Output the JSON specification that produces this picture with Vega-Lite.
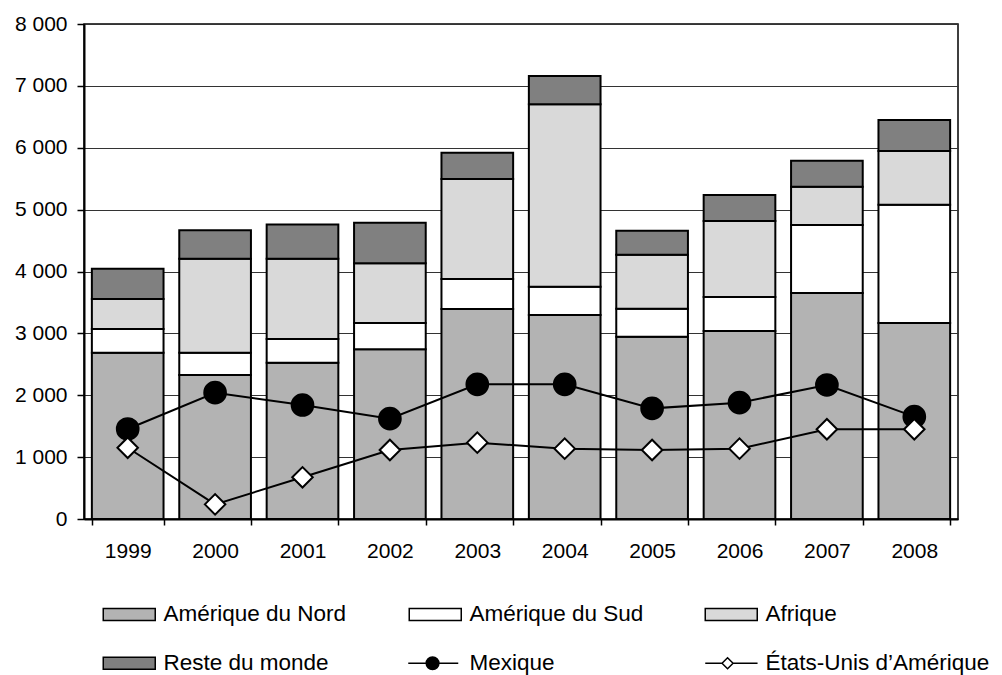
{
  "$schema": "https://vega.github.io/schema/vega-lite/v6.json",
  "width": 874,
  "height": 495,
  "autosize": {"type": "none"},
  "padding": {"left": 84, "top": 24, "right": 44, "bottom": 156},
  "background": "white",
  "config": {
    "font": "Liberation Sans",
    "view": {"stroke": "black", "strokeWidth": 1.5},
    "axis": {
      "labelFont": "Liberation Sans",
      "labelFontSize": 21,
      "labelColor": "black",
      "domainColor": "black",
      "domainWidth": 2,
      "tickColor": "black",
      "tickWidth": 1.5,
      "title": null
    },
    "legend": {
      "orient": "none",
      "legendX": 19,
      "legendY": 579,
      "columns": 3,
      "direction": "horizontal",
      "padding": 0,
      "labelFont": "Liberation Sans",
      "labelFontSize": 22.5,
      "labelColor": "black",
      "labelLimit": 400,
      "symbolSize": 400,
      "symbolOffset": 15,
      "labelOffset": 23,
      "columnPadding": 58,
      "rowPadding": 26,
      "symbolStrokeColor": "black",
      "symbolStrokeWidth": 1.5
    }
  },
  "datasets": {
    "bars": [
      {"year": "1999", "series": "Amérique du Nord", "value": 2688},
      {"year": "1999", "series": "Amérique du Sud", "value": 383},
      {"year": "1999", "series": "Afrique", "value": 485},
      {"year": "1999", "series": "Reste du monde", "value": 489},
      {"year": "2000", "series": "Amérique du Nord", "value": 2327},
      {"year": "2000", "series": "Amérique du Sud", "value": 361},
      {"year": "2000", "series": "Afrique", "value": 1519},
      {"year": "2000", "series": "Reste du monde", "value": 458},
      {"year": "2001", "series": "Amérique du Nord", "value": 2527},
      {"year": "2001", "series": "Amérique du Sud", "value": 382},
      {"year": "2001", "series": "Afrique", "value": 1298},
      {"year": "2001", "series": "Reste du monde", "value": 553},
      {"year": "2002", "series": "Amérique du Nord", "value": 2742},
      {"year": "2002", "series": "Amérique du Sud", "value": 426},
      {"year": "2002", "series": "Afrique", "value": 964},
      {"year": "2002", "series": "Reste du monde", "value": 657},
      {"year": "2003", "series": "Amérique du Nord", "value": 3394},
      {"year": "2003", "series": "Amérique du Sud", "value": 485},
      {"year": "2003", "series": "Afrique", "value": 1616},
      {"year": "2003", "series": "Reste du monde", "value": 425},
      {"year": "2004", "series": "Amérique du Nord", "value": 3297},
      {"year": "2004", "series": "Amérique du Sud", "value": 458},
      {"year": "2004", "series": "Afrique", "value": 2947},
      {"year": "2004", "series": "Reste du monde", "value": 458},
      {"year": "2005", "series": "Amérique du Nord", "value": 2947},
      {"year": "2005", "series": "Amérique du Sud", "value": 452},
      {"year": "2005", "series": "Afrique", "value": 873},
      {"year": "2005", "series": "Reste du monde", "value": 388},
      {"year": "2006", "series": "Amérique du Nord", "value": 3038},
      {"year": "2006", "series": "Amérique du Sud", "value": 550},
      {"year": "2006", "series": "Afrique", "value": 1228},
      {"year": "2006", "series": "Reste du monde", "value": 420},
      {"year": "2007", "series": "Amérique du Nord", "value": 3653},
      {"year": "2007", "series": "Amérique du Sud", "value": 1099},
      {"year": "2007", "series": "Afrique", "value": 619},
      {"year": "2007", "series": "Reste du monde", "value": 420},
      {"year": "2008", "series": "Amérique du Nord", "value": 3168},
      {"year": "2008", "series": "Amérique du Sud", "value": 1912},
      {"year": "2008", "series": "Afrique", "value": 868},
      {"year": "2008", "series": "Reste du monde", "value": 500}
    ],
    "lines": [
      {"year": "1999", "series": "Mexique", "value": 1455},
      {"year": "2000", "series": "Mexique", "value": 2041},
      {"year": "2001", "series": "Mexique", "value": 1842},
      {"year": "2002", "series": "Mexique", "value": 1621},
      {"year": "2003", "series": "Mexique", "value": 2177},
      {"year": "2004", "series": "Mexique", "value": 2177},
      {"year": "2005", "series": "Mexique", "value": 1788},
      {"year": "2006", "series": "Mexique", "value": 1880},
      {"year": "2007", "series": "Mexique", "value": 2166},
      {"year": "2008", "series": "Mexique", "value": 1654},
      {"year": "1999", "series": "États-Unis d’Amérique", "value": 1152},
      {"year": "2000", "series": "États-Unis d’Amérique", "value": 237},
      {"year": "2001", "series": "États-Unis d’Amérique", "value": 674},
      {"year": "2002", "series": "États-Unis d’Amérique", "value": 1115},
      {"year": "2003", "series": "États-Unis d’Amérique", "value": 1234},
      {"year": "2004", "series": "États-Unis d’Amérique", "value": 1137},
      {"year": "2005", "series": "États-Unis d’Amérique", "value": 1115},
      {"year": "2006", "series": "États-Unis d’Amérique", "value": 1137},
      {"year": "2007", "series": "États-Unis d’Amérique", "value": 1450},
      {"year": "2008", "series": "États-Unis d’Amérique", "value": 1450}
    ]
  },
  "layer": [
    {
      "data": {"name": "bars"},
      "transform": [
        {"calculate": "indexof(['Amérique du Nord', 'Amérique du Sud', 'Afrique', 'Reste du monde'], datum.series)", "as": "stackOrder"}
      ],
      "mark": {"type": "bar", "stroke": "black", "strokeWidth": 2, "opacity": 1},
      "encoding": {
        "x": {
          "field": "year",
          "type": "ordinal",
          "scale": {"paddingInner": 0.18, "paddingOuter": 0.09},
          "axis": {"labelAngle": 0, "tickBand": "extent", "tickSize": 6, "labelPadding": 15, "grid": false}
        },
        "y": {
          "field": "value",
          "type": "quantitative",
          "stack": "zero",
          "scale": {"domain": [0, 8000], "nice": false},
          "axis": {
            "values": [0, 1000, 2000, 3000, 4000, 5000, 6000, 7000, 8000],
            "grid": true,
            "gridColor": "#333333",
            "gridWidth": 1,
            "tickSize": 7,
            "labelPadding": 10,
            "labelExpr": "replace(format(datum.value, ',d'), ',', ' ')"
          }
        },
        "order": {"field": "stackOrder", "type": "quantitative"},
        "fill": {
          "field": "series",
          "type": "nominal",
          "scale": {
            "domain": ["Amérique du Nord", "Amérique du Sud", "Afrique", "Reste du monde", "Mexique", "États-Unis d’Amérique"],
            "range": ["#b3b3b3", "#ffffff", "#d9d9d9", "#808080", "#000000", "#ffffff"]
          },
          "legend": {
            "title": null,
            "labelOffset": 23,
            "symbolOffset": 15,
            "symbolSize": 400,
            "symbolType": {"expr": "datum.value === 'Mexique' ? 'M-2.7,0H2.3M0.365,0A0.635,0.635 0 1,1 -0.905,0A0.635,0.635 0 1,1 0.365,0Z' : (indexof(datum.value, 'tats') >= 0 ? 'M-2.6,0H-0.92M0.18,0H2.63M-0.92,0L-0.37,-0.55L0.18,0L-0.37,0.55Z' : 'M-2.6,-0.6H2.6V0.6H-2.6Z')"}
          }
        }
      }
    },
    {
      "data": {"name": "lines"},
      "mark": {"type": "line", "color": "black", "strokeWidth": 2},
      "encoding": {
        "x": {"field": "year", "type": "ordinal"},
        "y": {"field": "value", "type": "quantitative"},
        "detail": {"field": "series", "type": "nominal"}
      }
    },
    {
      "data": {"name": "lines"},
      "mark": {"type": "point", "filled": true, "stroke": "black", "strokeWidth": 2, "opacity": 1},
      "encoding": {
        "x": {"field": "year", "type": "ordinal"},
        "y": {"field": "value", "type": "quantitative"},
        "fill": {
          "field": "series",
          "type": "nominal",
          "legend": {
            "title": null,
            "labelOffset": 23,
            "symbolOffset": 15,
            "symbolSize": 400,
            "symbolType": {"expr": "datum.value === 'Mexique' ? 'M-2.7,0H2.3M0.365,0A0.635,0.635 0 1,1 -0.905,0A0.635,0.635 0 1,1 0.365,0Z' : (indexof(datum.value, 'tats') >= 0 ? 'M-2.6,0H-0.92M0.18,0H2.63M-0.92,0L-0.37,-0.55L0.18,0L-0.37,0.55Z' : 'M-2.6,-0.6H2.6V0.6H-2.6Z')"}
          }
        },
        "shape": {
          "field": "series",
          "type": "nominal",
          "scale": {"domain": ["Mexique", "États-Unis d’Amérique"], "range": ["circle", "diamond"]},
          "legend": null
        },
        "size": {
          "field": "series",
          "type": "nominal",
          "scale": {"domain": ["Mexique", "États-Unis d’Amérique"], "range": [470, 420]},
          "legend": null
        }
      }
    }
  ]
}
